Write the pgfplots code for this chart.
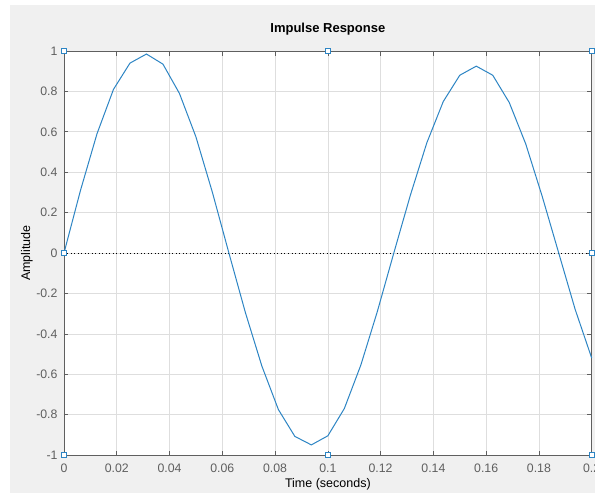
\documentclass[border=0pt]{standalone}
\usepackage{fontspec}
\setmainfont{Liberation Sans}
\usepackage{pgfplots}
\pgfplotsset{compat=1.18}
\definecolor{figgray}{RGB}{240,240,240}
\definecolor{mblue}{RGB}{45,133,196}
\definecolor{gridc}{RGB}{222,222,222}
\definecolor{axc}{RGB}{95,95,95}
\definecolor{tickc}{RGB}{95,95,95}
\begin{document}
\begin{tikzpicture}[x=1pt,y=1pt]
\useasboundingbox (-64,-38) rectangle (531,455);
\fill[figgray] (-54,-38) rectangle (531,450);
\begin{axis}[
  at={(0,0)}, anchor=south west,
  scale only axis, width=527.7pt, height=404pt,
  xmin=0, xmax=0.2, ymin=-1, ymax=1,
  axis background/.style={fill=white},
  xtick={0,0.02,0.04,0.06,0.08,0.1,0.12,0.14,0.16,0.18,0.2},
  xticklabels={0,0.02,0.04,0.06,0.08,0.1,0.12,0.14,0.16,0.18,0.2},
  ytick={-1,-0.8,-0.6,-0.4,-0.2,0,0.2,0.4,0.6,0.8,1},
  yticklabels={-1,-0.8,-0.6,-0.4,-0.2,0,0.2,0.4,0.6,0.8,1},
  tick pos=both, tick align=inside,
  major tick length=4.5pt,
  every tick/.style={axc, line width=0.6pt},
  grid=major,
  major grid style={gridc, line width=0.6pt},
  axis line style={axc, line width=0.8pt},
  tick label style={font=\fontsize{12.3}{14}\selectfont, text=tickc},
  xticklabel style={anchor=center, yshift=-13pt},
  yticklabel style={anchor=east, xshift=-3pt},
  title={\textbf{Impulse Response}},
  title style={font=\fontsize{13}{15}\selectfont, at={(axis description cs:0.5,1)}, anchor=center, yshift=16pt},
  xlabel={Time (seconds)},
  ylabel={Amplitude},
  xlabel style={font=\fontsize{12.5}{14}\selectfont, at={(axis description cs:0.5,0)}, anchor=center, yshift=-29pt},
  ylabel style={font=\fontsize{12.5}{14}\selectfont, at={(axis description cs:0,0.5)}, anchor=center, yshift=37pt},
  clip=false,
]
\addplot[black, line width=1pt, dash pattern=on 0.9pt off 2.6pt] coordinates {(0,0) (0.2,0)};
\addplot[mblue, line width=1pt] coordinates {
(0,0) (0.00625,0.31) (0.0125,0.59) (0.01875,0.81) (0.025,0.94) (0.03125,0.985)
(0.0375,0.935) (0.04375,0.79) (0.05,0.575) (0.05625,0.30) (0.0625,0.0)
(0.06875,-0.295) (0.075,-0.56) (0.08125,-0.775) (0.0875,-0.908) (0.09375,-0.95)
(0.1,-0.905) (0.10625,-0.77) (0.1125,-0.555) (0.11875,-0.29) (0.125,0.0)
(0.13125,0.285) (0.1375,0.545) (0.14375,0.75) (0.15,0.88) (0.15625,0.925)
(0.1625,0.88) (0.16875,0.745) (0.175,0.54) (0.18125,0.28) (0.1875,0.0)
(0.19375,-0.28) (0.2,-0.52)
};
\addplot[only marks, mark=square*, mark size=2.3pt, mark options={draw=mblue, fill=white, line width=1pt}] coordinates {
(0,1) (0.1,1) (0.2,1) (0,0) (0.2,0) (0,-1) (0.1,-1) (0.2,-1)
};
\end{axis}
\end{tikzpicture}
\end{document}
